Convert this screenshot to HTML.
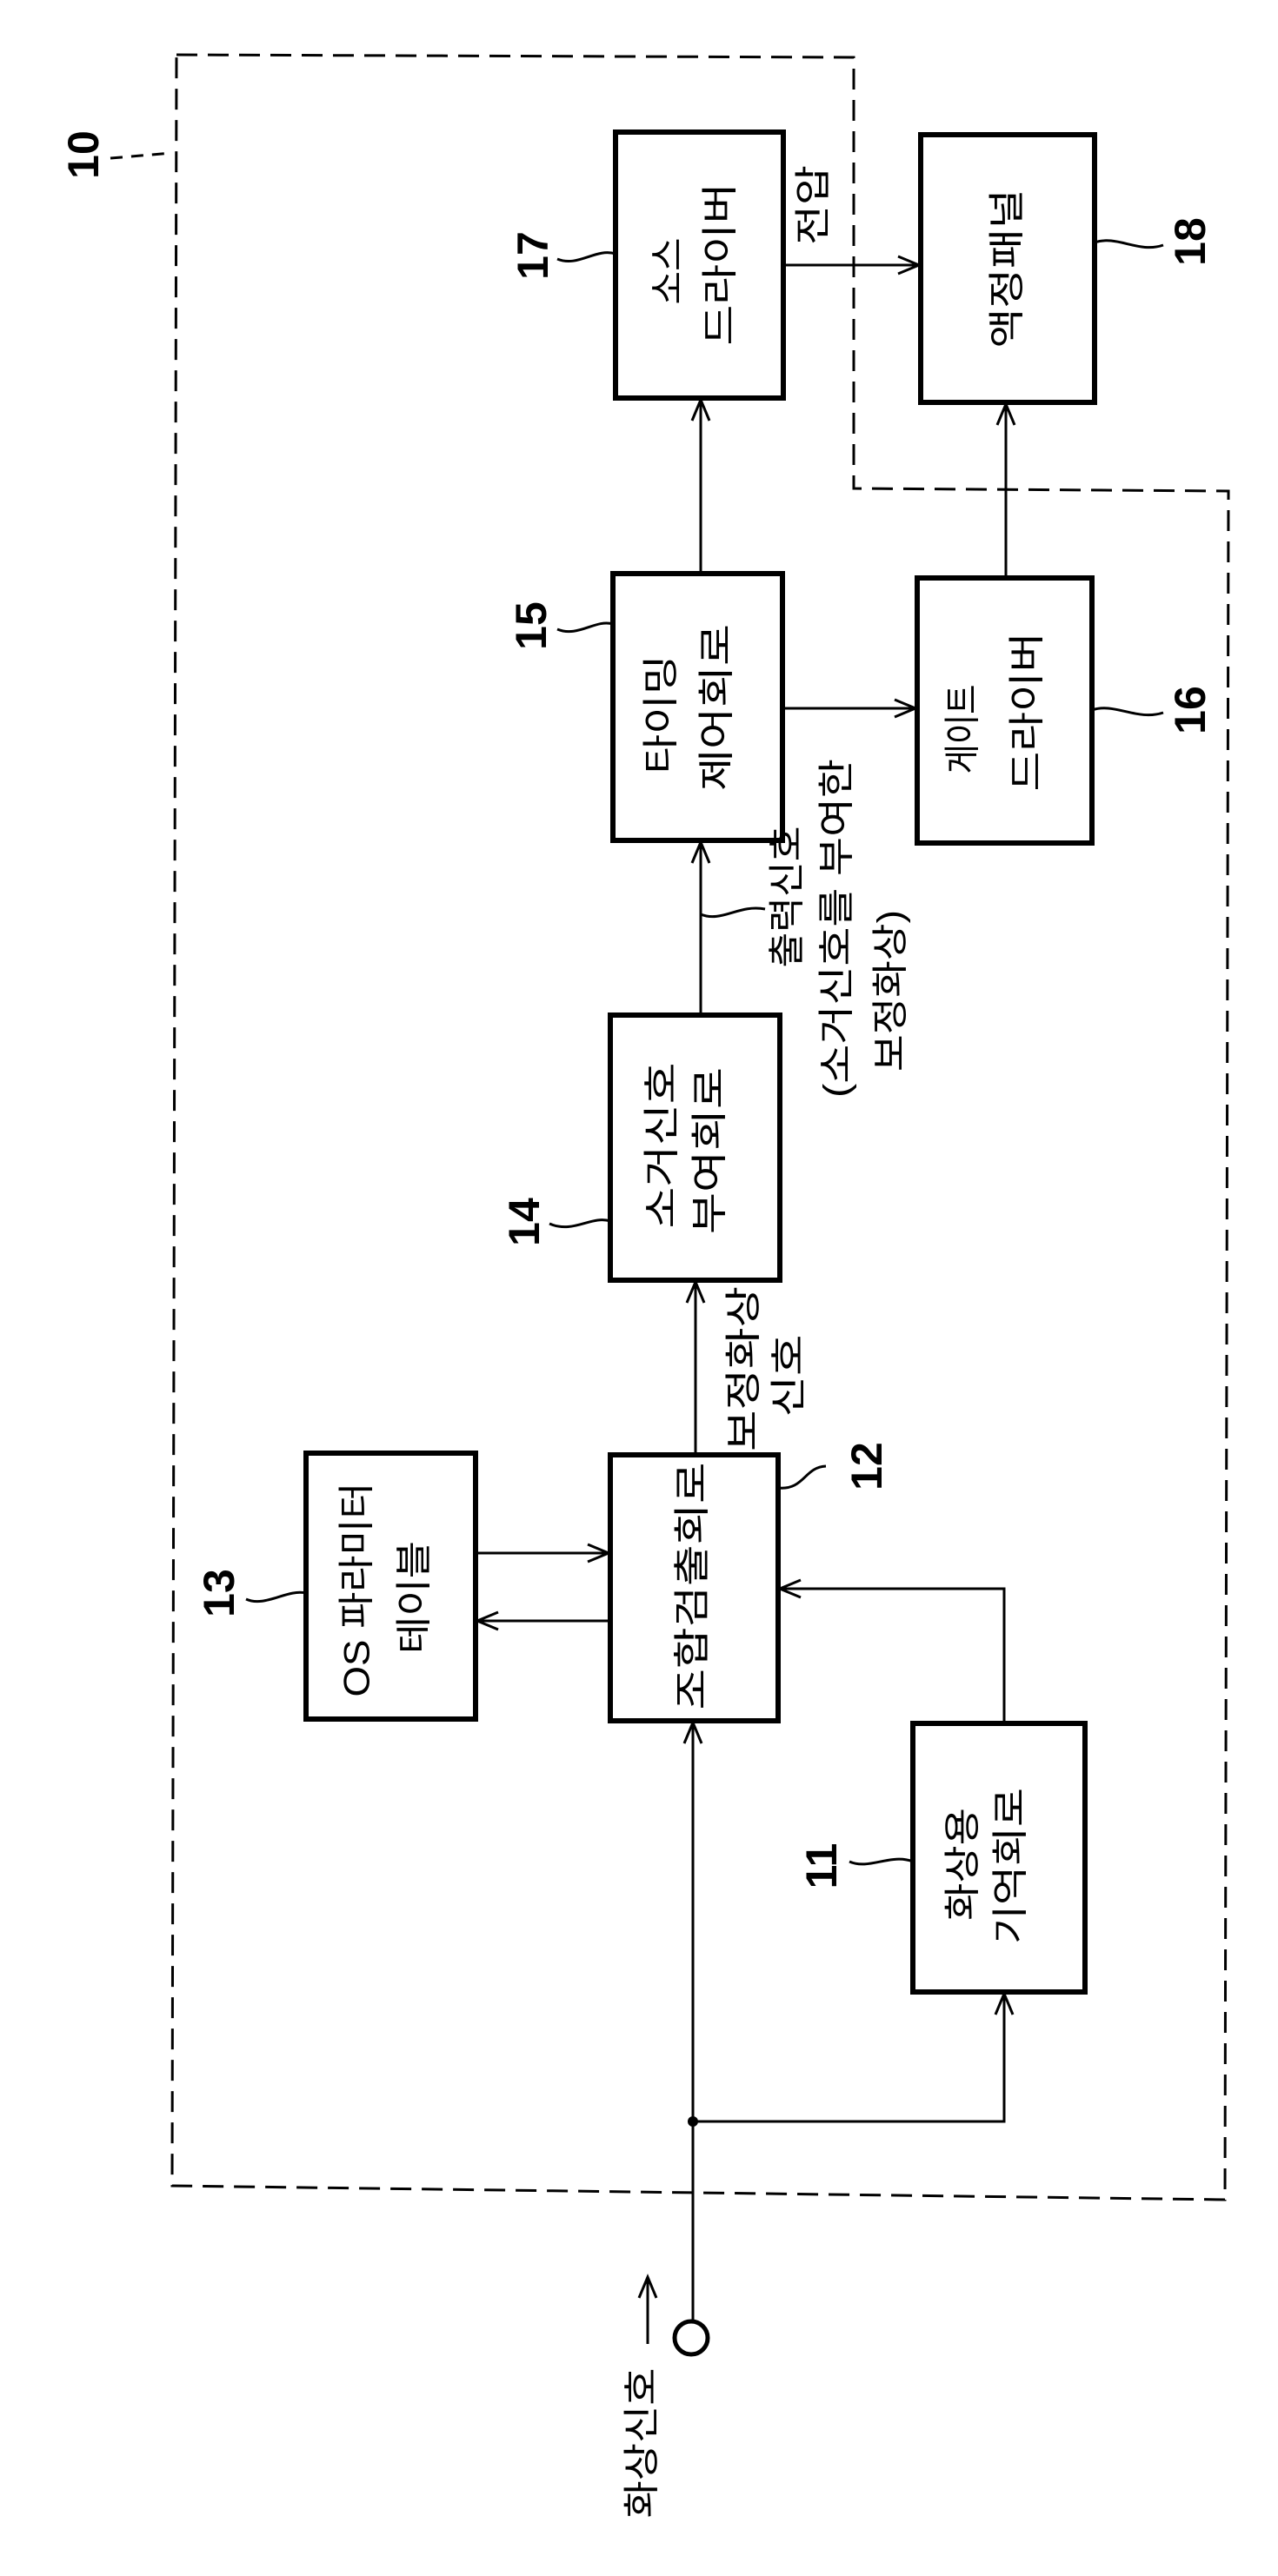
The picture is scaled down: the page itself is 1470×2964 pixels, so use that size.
<!DOCTYPE html>
<html><head><meta charset="utf-8"><style>
html,body{margin:0;padding:0;background:#fff;}
svg{display:block;}
text{font-family:"Liberation Sans","Noto Sans CJK KR",sans-serif;fill:#000;}
.k{font-size:42px;}
.n{font-size:50px;font-weight:bold;}
</style></head><body>
<svg width="1470" height="2964" viewBox="0 0 1470 2964" xmlns="http://www.w3.org/2000/svg">
<defs>
<marker id="a" markerWidth="30" markerHeight="24" refX="26" refY="12" orient="auto" markerUnits="userSpaceOnUse">
<path d="M2,2 L26,12 L2,22" fill="none" stroke="#000" stroke-width="3"/>
</marker>
</defs>
<!-- dashed boundary -->
<path d="M203,63 L982,66 L982,562 L1413,565 L1409,2531 L198,2515 Z" fill="none" stroke="#000" stroke-width="3" stroke-dasharray="24 12"/>
<!-- boxes -->
<g fill="none" stroke="#000" stroke-width="6">
<rect x="708" y="152" width="193" height="306"/>
<rect x="1059" y="155" width="200" height="308"/>
<rect x="705" y="660" width="195" height="307"/>
<rect x="1055" y="665" width="201" height="305"/>
<rect x="702" y="1168" width="195" height="305"/>
<rect x="352" y="1672" width="195" height="306"/>
<rect x="702" y="1674" width="193" height="306"/>
<rect x="1050" y="1983" width="198" height="309"/>
</g>
<!-- connectors -->
<g fill="none" stroke="#000" stroke-width="3">
<line x1="901" y1="305" x2="1057" y2="305" marker-end="url(#a)"/>
<line x1="806" y1="660" x2="806" y2="460" marker-end="url(#a)"/>
<line x1="900" y1="815" x2="1053" y2="815" marker-end="url(#a)"/>
<line x1="1157" y1="665" x2="1157" y2="465" marker-end="url(#a)"/>
<line x1="806" y1="1168" x2="806" y2="969" marker-end="url(#a)"/>
<line x1="800" y1="1674" x2="800" y2="1475" marker-end="url(#a)"/>
<line x1="547" y1="1787" x2="700" y2="1787" marker-end="url(#a)"/>
<line x1="702" y1="1865" x2="549" y2="1865" marker-end="url(#a)"/>
<polyline points="1155,1983 1155,1828 897,1828" marker-end="url(#a)"/>
<line x1="797" y1="2670" x2="797" y2="1982" marker-end="url(#a)"/>
<polyline points="797,2441 1155,2441 1155,2294" marker-end="url(#a)"/>
<line x1="745" y1="2697" x2="745" y2="2620" marker-end="url(#a)"/>
<!-- tildes -->
<path d="M641,298 C665,308 685,285 708,292"/>
<path d="M1259,279 C1285,270 1310,292 1338,282"/>
<path d="M641,724 C665,734 685,712 705,718"/>
<path d="M1256,817 C1282,808 1308,830 1338,820"/>
<path d="M632,1408 C660,1420 680,1398 702,1405"/>
<path d="M806,1052 C830,1062 850,1040 880,1046"/>
<path d="M895,1712 C925,1715 925,1688 950,1687"/>
<path d="M283,1840 C305,1850 330,1828 352,1833"/>
<path d="M977,2142 C1000,2152 1025,2132 1050,2142"/>
<path d="M127,182 L198,176" stroke-dasharray="14 10"/>
</g>
<circle cx="797" cy="2441" r="6" fill="#000"/>
<circle cx="795" cy="2690" r="19" fill="#fff" stroke="#000" stroke-width="5"/>
<!-- box texts -->
<g class="k" text-anchor="middle" dominant-baseline="central" lengthAdjust="spacingAndGlyphs">
<text transform="translate(768,312) rotate(-90)" textLength="77" lengthAdjust="spacingAndGlyphs">소스</text>
<text transform="translate(828,304) rotate(-90)" textLength="187" lengthAdjust="spacingAndGlyphs">드라이버</text>
<text transform="translate(935,236) rotate(-90)" textLength="92" lengthAdjust="spacingAndGlyphs">전압</text>
<text transform="translate(1158,309) rotate(-90)" textLength="183" lengthAdjust="spacingAndGlyphs">액정패널</text>
<text transform="translate(760,822) rotate(-90)" textLength="137" lengthAdjust="spacingAndGlyphs">타이밍</text>
<text transform="translate(824,814) rotate(-90)" textLength="192" lengthAdjust="spacingAndGlyphs">제어회로</text>
<text transform="translate(1107,839) rotate(-90)" textLength="103" lengthAdjust="spacingAndGlyphs">게이트</text>
<text transform="translate(1181,819) rotate(-90)" textLength="183" lengthAdjust="spacingAndGlyphs">드라이버</text>
<text transform="translate(905,1032) rotate(-90)" textLength="163" lengthAdjust="spacingAndGlyphs">출력신호</text>
<text transform="translate(962,1068) rotate(-90)" textLength="390" lengthAdjust="spacingAndGlyphs">(소거신호를 부여한</text>
<text transform="translate(1024,1140) rotate(-90)" textLength="186" lengthAdjust="spacingAndGlyphs">보정화상)</text>
<text transform="translate(761,1318) rotate(-90)" textLength="191" lengthAdjust="spacingAndGlyphs">소거신호</text>
<text transform="translate(816,1324) rotate(-90)" textLength="192" lengthAdjust="spacingAndGlyphs">부여회로</text>
<text transform="translate(855,1575) rotate(-90)" textLength="190" lengthAdjust="spacingAndGlyphs">보정화상</text>
<text transform="translate(907,1583) rotate(-90)" textLength="95" lengthAdjust="spacingAndGlyphs">신호</text>
<text transform="translate(410,1829) rotate(-90)" textLength="247" lengthAdjust="spacingAndGlyphs">OS 파라미터</text>
<text transform="translate(476,1838) rotate(-90)" textLength="130" lengthAdjust="spacingAndGlyphs">테이블</text>
<text transform="translate(796,1825) rotate(-90)" textLength="285" lengthAdjust="spacingAndGlyphs">조합검출회로</text>
<text transform="translate(1107,2145) rotate(-90)" textLength="130" lengthAdjust="spacingAndGlyphs">화상용</text>
<text transform="translate(1162,2147) rotate(-90)" textLength="180" lengthAdjust="spacingAndGlyphs">기억회로</text>
<text transform="translate(738,2811) rotate(-90)" textLength="173" lengthAdjust="spacingAndGlyphs">화상신호</text>
</g>
<!-- numbers -->
<g class="n" text-anchor="middle" dominant-baseline="central">
<text transform="translate(96,178) rotate(-90)">10</text>
<text transform="translate(613,294) rotate(-90)">17</text>
<text transform="translate(1369,278) rotate(-90)">18</text>
<text transform="translate(611,720) rotate(-90)">15</text>
<text transform="translate(1369,817) rotate(-90)">16</text>
<text transform="translate(603,1406) rotate(-90)">14</text>
<text transform="translate(252,1833) rotate(-90)">13</text>
<text transform="translate(997,1687) rotate(-90)">12</text>
<text transform="translate(945,2147) rotate(-90)">11</text>
</g>
</svg>
</body></html>
